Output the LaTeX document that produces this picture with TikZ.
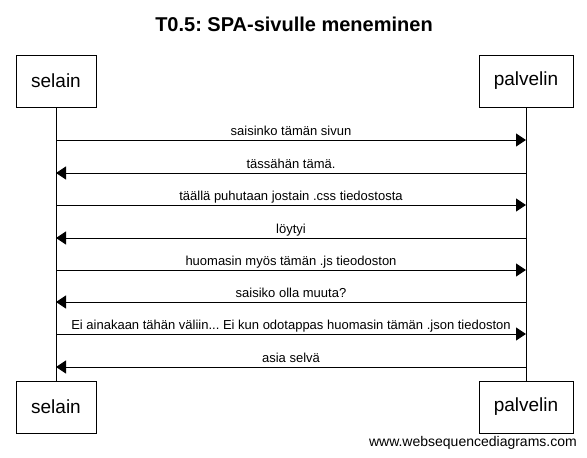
\documentclass[tikz,border=0pt]{standalone}
\usepackage{fontspec}
\setmainfont{Liberation Sans}
\usetikzlibrary{arrows.meta}
\frenchspacing

\tikzset{
  actor/.style={draw,line width=1pt,minimum width=#1,minimum height=52pt,inner sep=0pt,font=\fontsize{19}{22}\selectfont},
  msg/.style={->,line width=1pt},
  msgtxt/.style={anchor=base,yshift=5pt,inner sep=0pt,font=\fontsize{13}{15}\selectfont}
}

\begin{document}
\begin{tikzpicture}[x=1pt,y=-1pt,>={Triangle[length=10pt,width=13pt]}]
\useasboundingbox (0,0) rectangle (587,458);
\node[anchor=base,inner sep=0pt,font=\fontsize{20}{24}\selectfont\bfseries] (title) at (294,31) {T0.5: SPA-sivulle meneminen};
\node[actor=80pt] (selA) at (56,81) {selain};
\node[actor=94pt] (palA) at (526,81) {palvelin};
\node[actor=80pt] (selB) at (56,407) {selain};
\node[actor=94pt] (palB) at (526,407) {palvelin};
\draw[line width=1pt] (selA)--(selB);
\draw[line width=1pt] (palA)--(palB);
\coordinate (s1) at (56,140); \coordinate (p1) at (526,140);
\coordinate (s2) at (56,173); \coordinate (p2) at (526,173);
\coordinate (s3) at (56,205); \coordinate (p3) at (526,205);
\coordinate (s4) at (56,238); \coordinate (p4) at (526,238);
\coordinate (s5) at (56,270); \coordinate (p5) at (526,270);
\coordinate (s6) at (56,302); \coordinate (p6) at (526,302);
\coordinate (s7) at (56,334); \coordinate (p7) at (526,334);
\coordinate (s8) at (56,367); \coordinate (p8) at (526,367);
\draw[msg] (s1)--node[msgtxt] {saisinko tämän sivun}(p1);
\draw[msg] (p2)--node[msgtxt] {tässähän tämä.}(s2);
\draw[msg] (s3)--node[msgtxt] {täällä puhutaan jostain .css tiedostosta}(p3);
\draw[msg] (p4)--node[msgtxt] {löytyi}(s4);
\draw[msg] (s5)--node[msgtxt] {huomasin myös tämän .js tieodoston}(p5);
\draw[msg] (p6)--node[msgtxt] {saisiko olla muuta?}(s6);
\draw[msg] (s7)--node[msgtxt] {Ei ainakaan tähän väliin... Ei kun odotappas huomasin tämän .json tiedoston}(p7);
\draw[msg] (p8)--node[msgtxt] {asia selvä}(s8);
\node[anchor=base east,inner sep=0pt,font=\fontsize{14}{16}\selectfont] (wsd) at (577,446) {www.websequencediagrams.com};
\end{tikzpicture}
\end{document}
